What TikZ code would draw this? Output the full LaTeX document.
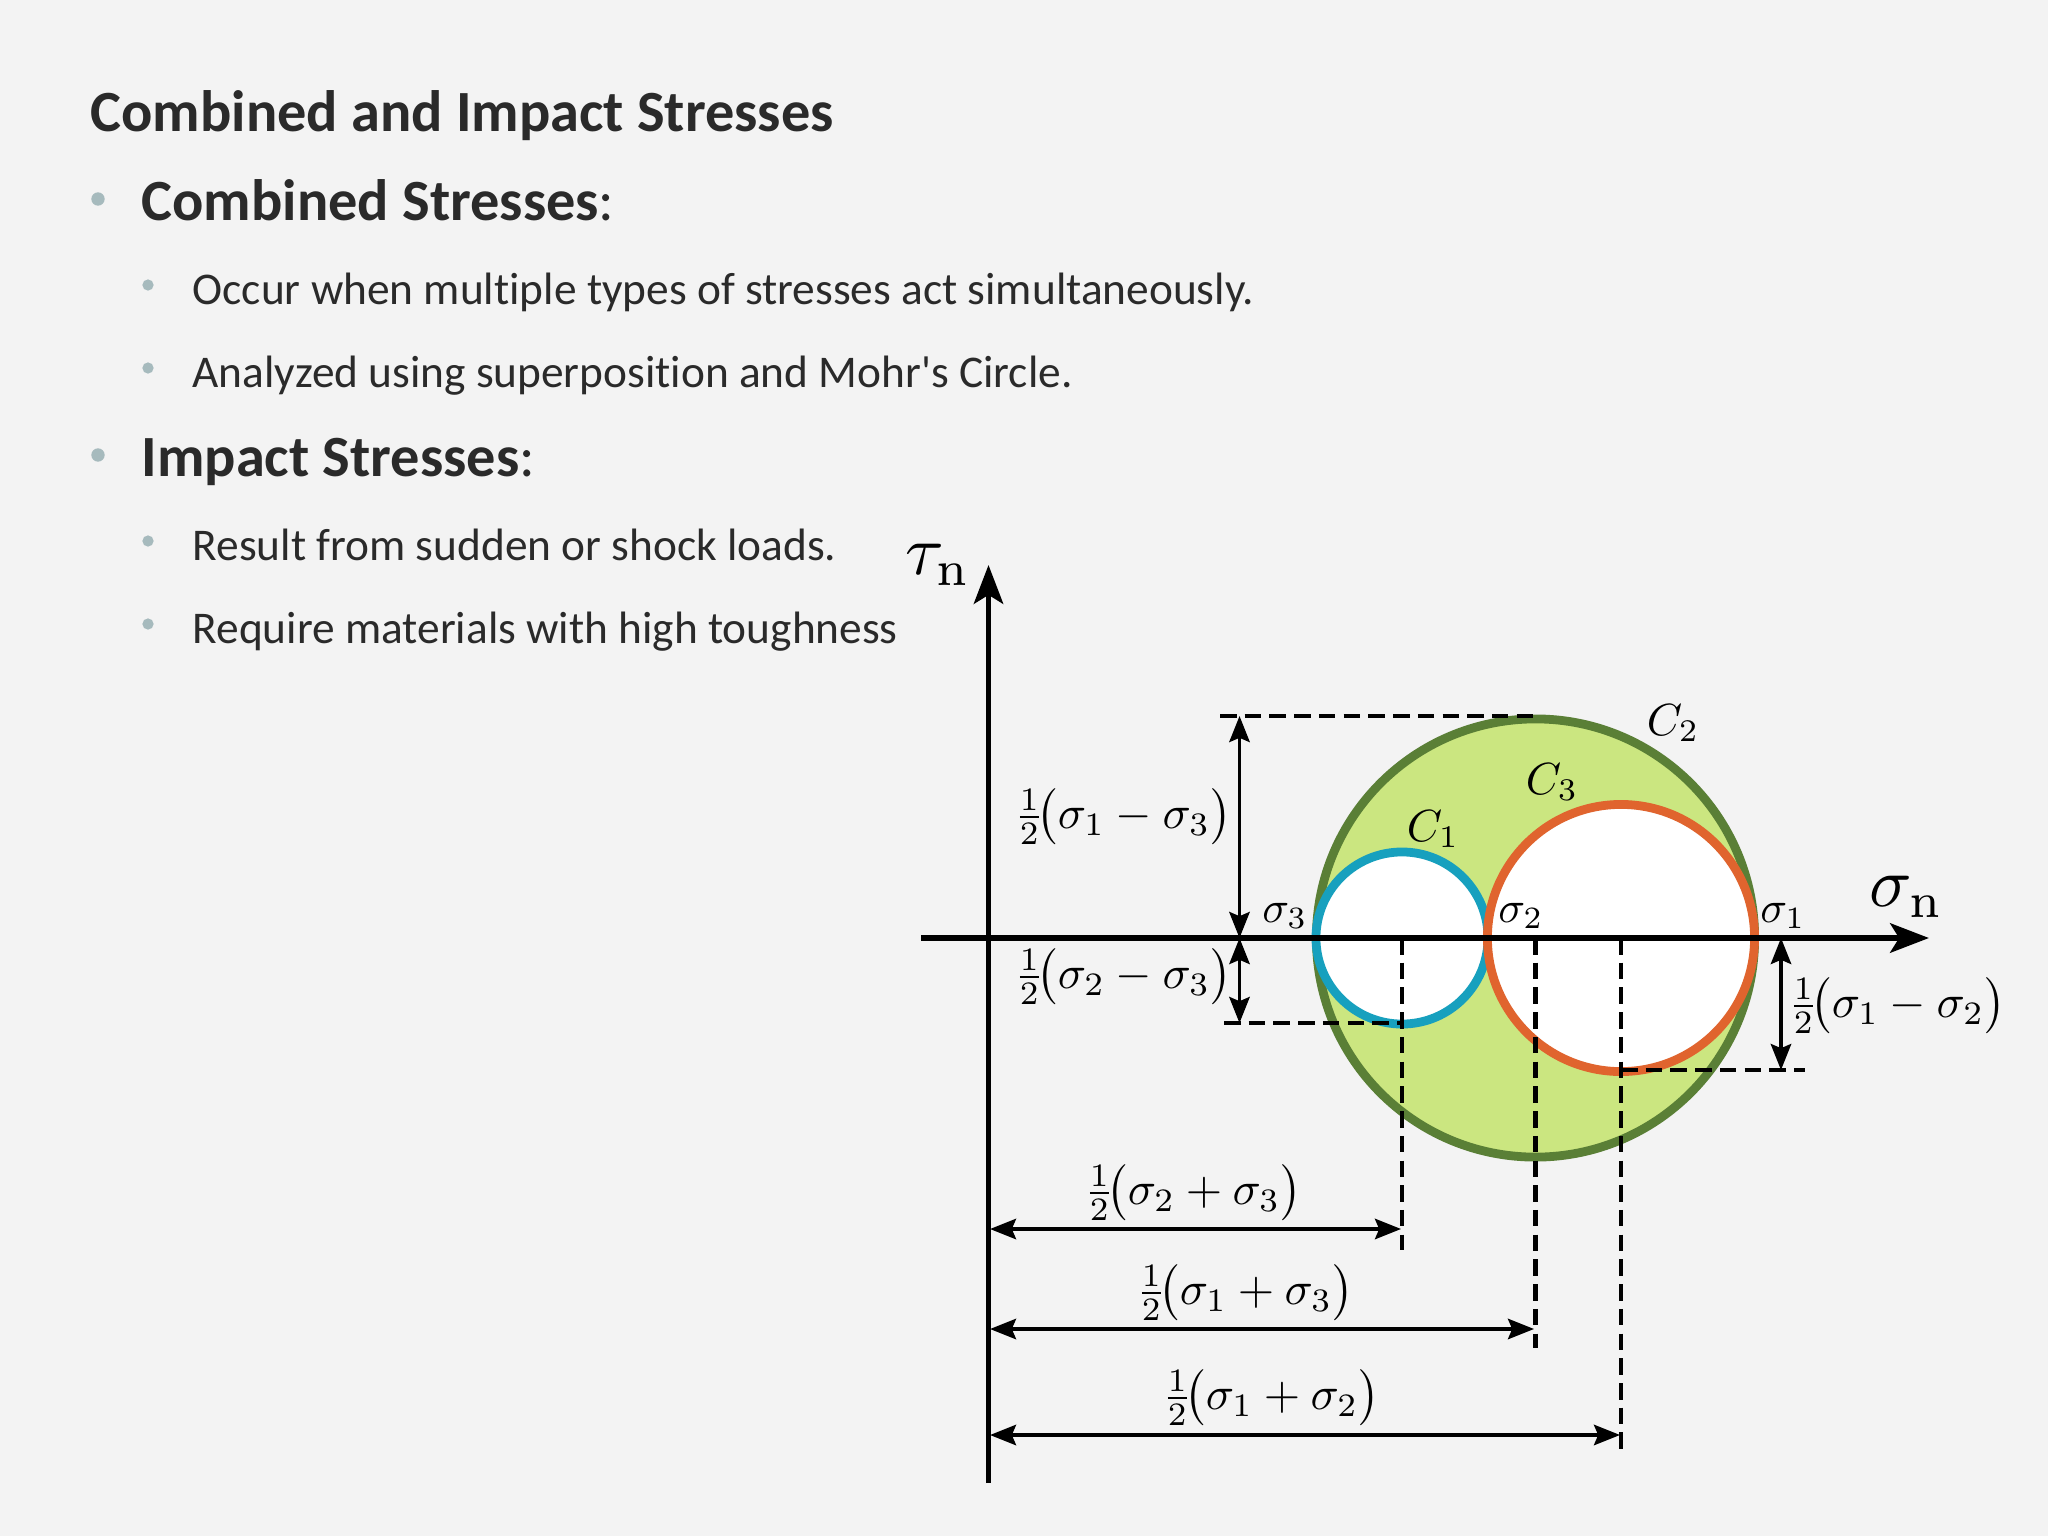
\documentclass[tikz,border=0pt]{standalone}
\usepackage{amsmath}
\usepackage[no-math]{fontspec}
\setmainfont{Carlito}[Ligatures={TeX,NoCommon}]
\usetikzlibrary{arrows.meta}
\definecolor{pagegray}{HTML}{F3F3F3}
\definecolor{inkgray}{HTML}{2A2A2A}
\definecolor{dotgray}{HTML}{A6BABD}
\definecolor{limefill}{HTML}{CBE680}
\definecolor{mossline}{HTML}{5A7F36}
\definecolor{tealline}{HTML}{17A0BE}
\definecolor{rustline}{HTML}{E0642E}
\newcommand{\halffrac}{{\tfrac{1}{2}}\!}

\begin{document}
\begin{tikzpicture}[x=0.01cm,y=-0.01cm,
  headtext/.style={anchor=base west,inner sep=0,text=inkgray,font=\fontsize{16.6pt}{18pt}\selectfont\bfseries},
  subtext/.style={anchor=base west,inner sep=0,text=inkgray,font=\fontsize{12.9pt}{16pt}\selectfont},
  bigdot/.style={circle,fill=dotgray,inner sep=0,minimum size=3.8pt},
  smalldot/.style={circle,fill=dotgray,inner sep=0,minimum size=3.2pt},
  mohr/.style={circle,inner sep=0,outer sep=0,line width=2.5pt},
  axisline/.style={line width=1.6pt,-{Stealth[length=11pt,width=8.3pt,inset=2.5pt]}},
  dimline/.style={line width=1pt,{Stealth[length=7.4pt,width=5.8pt,inset=1.2pt]}-{Stealth[length=7.4pt,width=5.8pt,inset=1.2pt]}},
  guide/.style={line width=1.2pt,dash pattern=on 4.7pt off 2.33pt},
  dimlabel/.style={inner sep=0,scale=1.33},
  ptlabel/.style={inner sep=0,scale=1.26},
  circlabel/.style={inner sep=0,scale=1.28},
  axlabel/.style={inner sep=0,scale=2}]

 \fill[pagegray] (0,0) rectangle (2048,1536);

 \node[headtext] (title) at (90,131) {Combined and Impact Stresses};
 \foreach \nm/\y/\txt in {c/220/{Combined Stresses},i/476/{Impact Stresses}}
   {\node[bigdot] (dot\nm) at (98,\y-21) {};
    \node[headtext] (item\nm) at (141,\y) {\txt\textmd{:}};}
 \foreach \nm/\y/\txt in {a/304/{Occur when multiple types of stresses act simultaneously.},
                          b/387/{Analyzed using superposition and Mohr\textquotesingle s Circle.},
                          d/560/{Result from sudden or shock loads.},
                          e/643/{Require materials with high toughness}}
   {\node[smalldot] (dot\nm) at (148,\y-19) {};
    \node[subtext] (item\nm) at (192,\y) {\txt};}

 \node[mohr,draw=mossline,fill=limefill,minimum size=438*0.2845pt] (C2) at (1535.5,938) {};
 \node[mohr,draw=tealline,fill=white,minimum size=172*0.2845pt] (C1) at (1402,938) {};
 \node[mohr,draw=rustline,fill=white,minimum size=267*0.2845pt] (C3) at (1621,938) {};

 \coordinate (xstart) at (921,938);
 \coordinate (xend) at (1929,938);
 \coordinate (ystart) at (988.5,1483);
 \coordinate (yend) at (988.5,565);
 \draw[axisline,line width=1.8pt] (xstart) -- (xend);
 \draw[axisline] (ystart) -- (yend);

 \coordinate (topfree) at (1220,716);
 \coordinate (lowfree) at (1224,1023);
 \coordinate (rightfree) at (1805,1070);
 \coordinate (c1foot) at (1402,1250);
 \coordinate (c2foot) at (1535.5,1348);
 \coordinate (c3foot) at (1621,1450);
 \draw[guide] (topfree) -- (topfree -| C2.north);
 \draw[guide] (lowfree) -- (lowfree -| C1.south);
 \draw[guide] (rightfree -| C3.south) -- (rightfree);
 \draw[guide] (C1.center) -- (c1foot);
 \draw[guide] (C2.center) -- (c2foot);
 \draw[guide] (C3.center) -- (c3foot);

 \coordinate (upperA) at (1239.5,716);
 \coordinate (upperB) at (1239.5,938);
 \coordinate (lowerB) at (1239.5,1023);
 \coordinate (sideA) at (1781,938);
 \coordinate (sideB) at (1781,1070);
 \draw[dimline] (upperA) -- (upperB);
 \draw[dimline] (upperB) -- (lowerB);
 \draw[dimline] (sideA) -- (sideB);
 \foreach \nm/\y/\xe in {p/1229/1401,q/1329/1534,r/1435/1620}
   {\coordinate (\nm L) at (990,\y);
    \coordinate (\nm R) at (\xe,\y);
    \draw[dimline] (\nm L) -- (\nm R);}

 \node[dimlabel] (lab13) at (1123,817) {$\halffrac\bigl(\sigma_1-\sigma_3\bigr)$};
 \node[dimlabel] (lab23) at (1123,977) {$\halffrac\bigl(\sigma_2-\sigma_3\bigr)$};
 \node[dimlabel] (lab12) at (1897,1006) {$\halffrac\bigl(\sigma_1-\sigma_2\bigr)$};
 \node[dimlabel] (mid23) at (1193,1193) {$\halffrac\bigl(\sigma_2+\sigma_3\bigr)$};
 \node[dimlabel] (mid13) at (1245,1293) {$\halffrac\bigl(\sigma_1+\sigma_3\bigr)$};
 \node[dimlabel] (mid12) at (1271,1398) {$\halffrac\bigl(\sigma_1+\sigma_2\bigr)$};

 \node[ptlabel] (s3) at (1285,916) {$\sigma_3$};
 \node[ptlabel] (s2) at (1521,916) {$\sigma_2$};
 \node[ptlabel] (s1) at (1783,916) {$\sigma_1$};
 \node[circlabel] (lC1) at (1433,829) {$C_1$};
 \node[circlabel] (lC2) at (1673,723) {$C_2$};
 \node[circlabel] (lC3) at (1552,782) {$C_3$};
 \node[axlabel] (sn) at (1907,897) {$\sigma_{\mathrm{n}}$};
 \node[axlabel] (tn) at (938,565) {$\tau_{\mathrm{n}}$};
\end{tikzpicture}
\end{document}
